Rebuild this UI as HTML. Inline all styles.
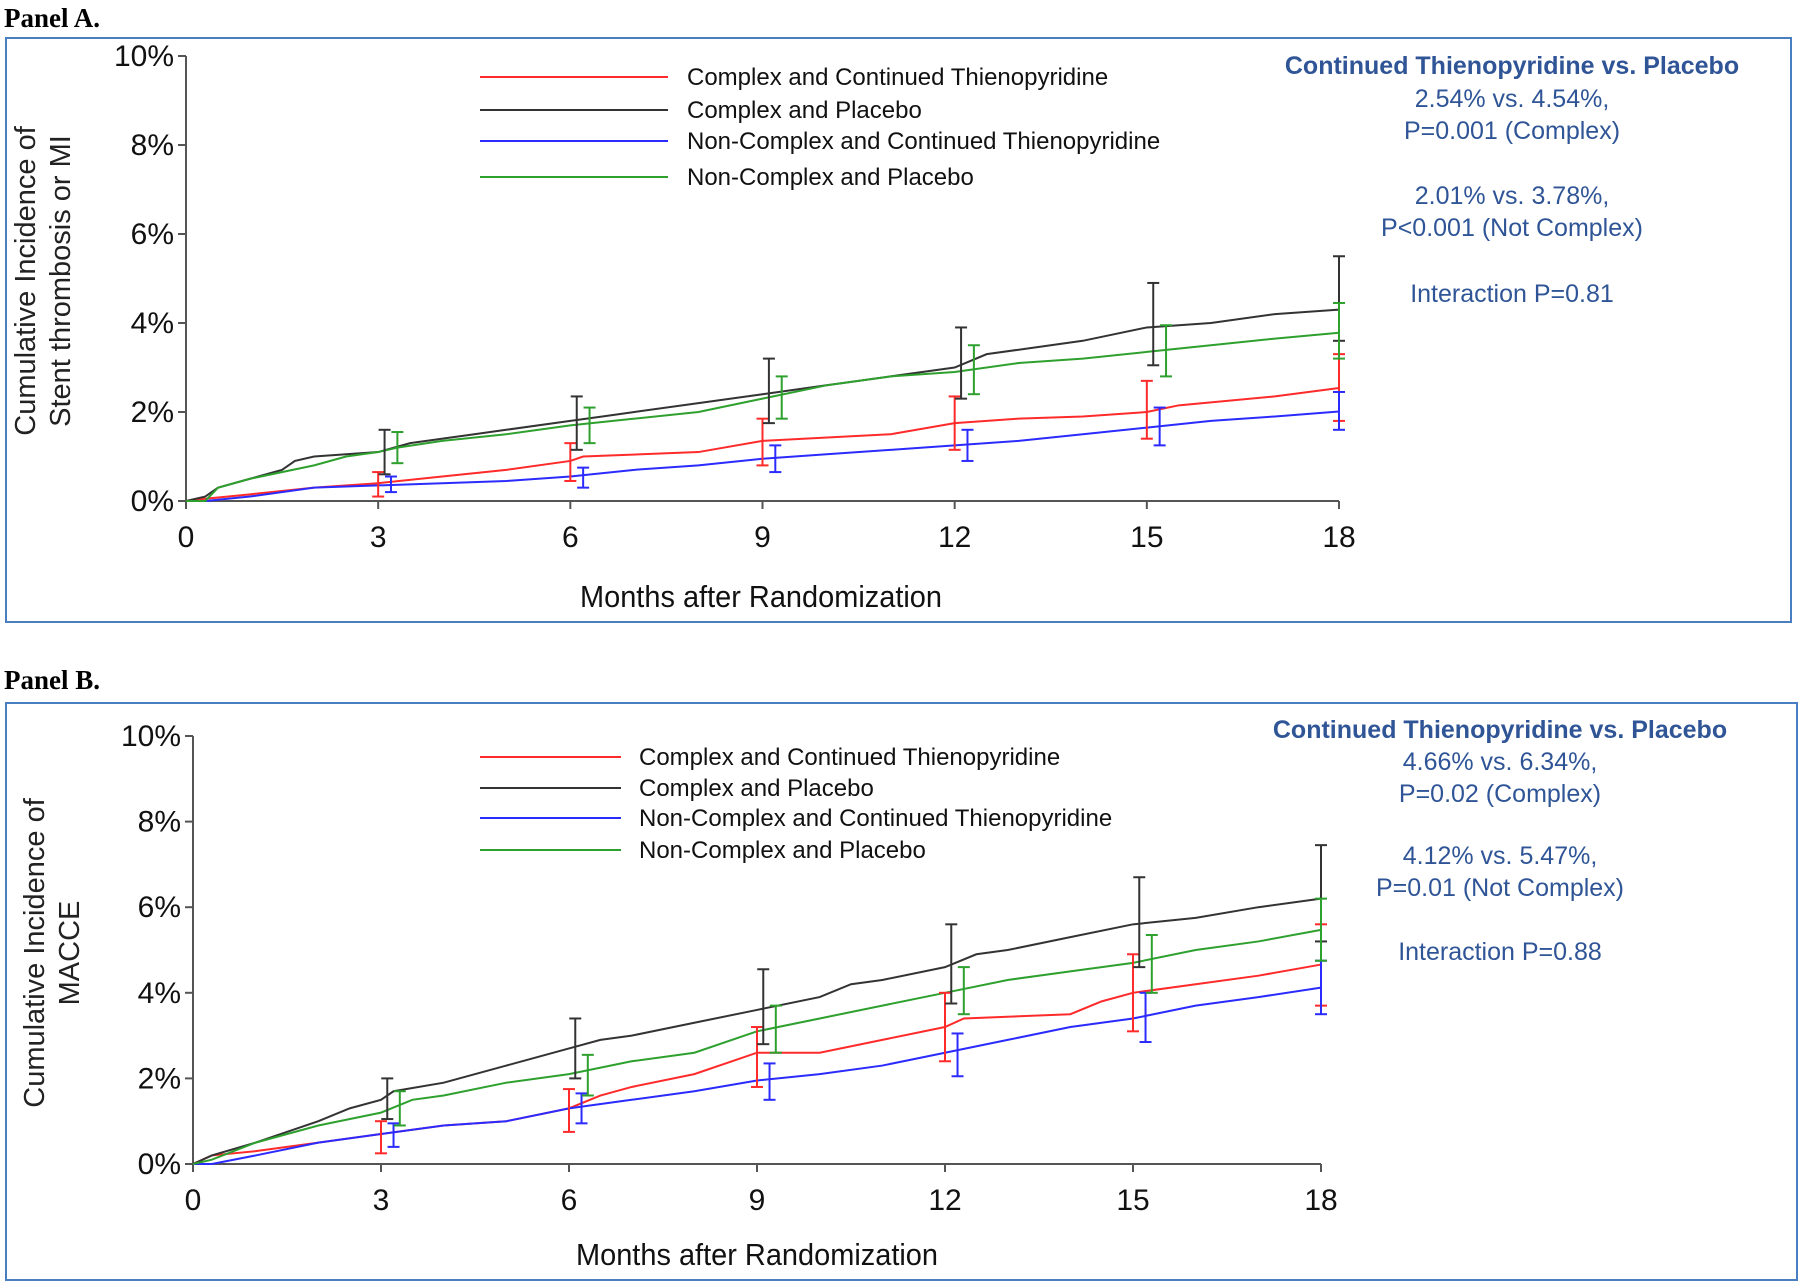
<!DOCTYPE html>
<html><head><meta charset="utf-8">
<style>
body{margin:0;background:#fff;}
svg{display:block;}
text{font-family:"Liberation Sans",sans-serif;}
</style></head>
<body>
<svg id="chart" width="1800" height="1287" viewBox="0 0 1800 1287" xmlns="http://www.w3.org/2000/svg">
  <text x="4" y="27" font-weight="bold" font-size="27" fill="#000" style="font-family:'Liberation Serif',serif">Panel A.</text>
  <rect x="6" y="38" width="1785" height="584" fill="none" stroke="#4A7EC2" stroke-width="2"/>
  <text x="4" y="689" font-weight="bold" font-size="27" fill="#000" style="font-family:'Liberation Serif',serif">Panel B.</text>
  <rect x="6" y="703" width="1791" height="577" fill="none" stroke="#4A7EC2" stroke-width="2"/>
  <g id="pa"></g>
  <g id="pb"></g>
</svg>
<script>
const xTicks=[0,3,6,9,12,15,18];
const yTicks=[0,2,4,6,8,10];
const seriesNames=["Complex and Continued Thienopyridine","Complex and Placebo","Non-Complex and Continued Thienopyridine","Non-Complex and Placebo"];
// Panel A data (months, %)
const aRedT=[0,0.3,1,2,3,4,5,6,6.2,8,9,11,12,13,14,15,15.5,17,18];
const aRedV=[0,0.05,0.15,0.3,0.4,0.55,0.7,0.9,1.0,1.1,1.35,1.5,1.75,1.85,1.9,2.0,2.15,2.35,2.54];
const aBlkT=[0,0.3,0.5,1,1.5,1.7,2,3,3.5,4.5,5,6,6.5,7,8,9,10,11,12,12.5,13,14,15,16,17,18];
const aBlkV=[0,0.1,0.3,0.5,0.7,0.9,1.0,1.1,1.3,1.5,1.6,1.8,1.9,2.0,2.2,2.4,2.6,2.8,3.0,3.3,3.4,3.6,3.9,4.0,4.2,4.3];
const aBluT=[0,0.3,1,2,3,4,5,6,7,8,9,10,11,12,13,14,15,16,17,18];
const aBluV=[0,0,0.1,0.3,0.35,0.4,0.45,0.55,0.7,0.8,0.95,1.05,1.15,1.25,1.35,1.5,1.65,1.8,1.9,2.01];
const aGrnT=[0,0.3,0.5,1,2,2.5,3,3.3,4,5,6,7,8,9,10,11,12,13,14,15,16,17,18];
const aGrnV=[0,0,0.3,0.5,0.8,1.0,1.1,1.2,1.35,1.5,1.7,1.85,2.0,2.3,2.6,2.8,2.9,3.1,3.2,3.35,3.5,3.65,3.78];
const aRedEbT=[3.0,6.0,9.0,12.0,15.0,18];const aRedEbLo=[0.1,0.45,0.8,1.15,1.4,1.8];const aRedEbHi=[0.65,1.3,1.85,2.35,2.7,3.3];
const aBlkEbT=[3.1,6.1,9.1,12.1,15.1,18];const aBlkEbLo=[0.6,1.15,1.75,2.3,3.05,3.6];const aBlkEbHi=[1.6,2.35,3.2,3.9,4.9,5.5];
const aBluEbT=[3.2,6.2,9.2,12.2,15.2,18];const aBluEbLo=[0.2,0.3,0.65,0.9,1.25,1.6];const aBluEbHi=[0.55,0.75,1.25,1.6,2.1,2.45];
const aGrnEbT=[3.3,6.3,9.3,12.3,15.3,18];const aGrnEbLo=[0.85,1.3,1.85,2.4,2.8,3.2];const aGrnEbHi=[1.55,2.1,2.8,3.5,3.95,4.45];
// Panel B data
const bRedT=[0,0.3,1,2,3,4,5,6,6.5,7,8,9,10,11,12,12.3,14,14.5,15,16,17,18];
const bRedV=[0,0.2,0.3,0.5,0.7,0.9,1.0,1.3,1.6,1.8,2.1,2.6,2.6,2.9,3.2,3.4,3.5,3.8,4.0,4.2,4.4,4.66];
const bBlkT=[0,0.3,1,2,2.5,3,3.2,4,5,6,6.5,7,8,9,10,10.5,11,12,12.5,13,14,15,16,17,18];
const bBlkV=[0,0.2,0.5,1.0,1.3,1.5,1.7,1.9,2.3,2.7,2.9,3.0,3.3,3.6,3.9,4.2,4.3,4.6,4.9,5.0,5.3,5.6,5.75,6.0,6.2];
const bBluT=[0,0.3,1,2,3,4,5,6,7,8,9,10,11,12,13,14,15,16,17,18];
const bBluV=[0,0,0.2,0.5,0.7,0.9,1.0,1.3,1.5,1.7,1.95,2.1,2.3,2.6,2.9,3.2,3.4,3.7,3.9,4.12];
const bGrnT=[0,0.3,1,2,3,3.5,4,5,6,7,8,9,10,11,12,13,14,15,16,17,18];
const bGrnV=[0,0.1,0.5,0.9,1.2,1.5,1.6,1.9,2.1,2.4,2.6,3.1,3.4,3.7,4.0,4.3,4.5,4.7,5.0,5.2,5.47];
const bRedEbT=[3.0,6.0,9.0,12.0,15.0,18];const bRedEbLo=[0.25,0.75,1.8,2.4,3.1,3.7];const bRedEbHi=[1.0,1.75,3.2,4.0,4.9,5.6];
const bBlkEbT=[3.1,6.1,9.1,12.1,15.1,18];const bBlkEbLo=[1.05,2.0,2.8,3.75,4.6,5.2];const bBlkEbHi=[2.0,3.4,4.55,5.6,6.7,7.45];
const bBluEbT=[3.2,6.2,9.2,12.2,15.2,18];const bBluEbLo=[0.4,0.95,1.5,2.05,2.85,3.5];const bBluEbHi=[0.95,1.65,2.35,3.05,4.0,4.75];
const bGrnEbT=[3.3,6.3,9.3,12.3,15.3,18];const bGrnEbLo=[0.9,1.6,2.6,3.5,4.0,4.75];const bGrnEbHi=[1.7,2.55,3.7,4.6,5.35,6.2];

const NS="http://www.w3.org/2000/svg";
const COLORS=["#FF2A2A","#333333","#2B2BFF","#2EA02E"];
function mk(tag,attrs,parent){const e=document.createElementNS(NS,tag);for(const k in attrs)e.setAttribute(k,attrs[k]);parent.appendChild(e);return e;}

function drawPanel(g,cfg,series,ebs){
  const X=t=>cfg.x0+(cfg.x1-cfg.x0)*t/18;
  const Y=v=>cfg.y0+(cfg.y1-cfg.y0)*v/10;
  const ya=mk('line',{x1:cfg.x0,y1:cfg.y1,x2:cfg.x0,y2:cfg.y0,stroke:'#555','stroke-width':2},g);
  
  
  const xa=mk('line',{x1:cfg.x0-8,y1:cfg.y0,x2:cfg.x1,y2:cfg.y0,stroke:'#555','stroke-width':2},g);
  
  
  yTicks.forEach(v=>{
    mk('line',{x1:cfg.x0-8,y1:Y(v),x2:cfg.x0,y2:Y(v),stroke:'#555','stroke-width':2},g);
    const t=mk('text',{x:cfg.x0-12,y:Y(v)+10,'text-anchor':'end','font-size':30,fill:'#111'},g);
    t.textContent=v+'%';
    
    
  });
  xTicks.forEach(v=>{
    mk('line',{x1:X(v),y1:cfg.y0,x2:X(v),y2:cfg.y0+8,stroke:'#555','stroke-width':2},g);
    const t=mk('text',{x:X(v),y:cfg.xl,'text-anchor':'middle','font-size':30,fill:'#111'},g);
    t.textContent=v;
    
    
  });
  const xt=mk('text',{x:cfg.xtX,y:cfg.xtY,'text-anchor':'middle','font-size':31,fill:'#111',textLength:362,lengthAdjust:'spacingAndGlyphs'},g);
  xt.textContent='Months after Randomization';
  
  
  cfg.ytLines.forEach((s,i)=>{
    const t=mk('text',{x:0,y:0,'text-anchor':'middle','font-size':29,fill:'#222',transform:`translate(${cfg.ytX[i]},${cfg.ytY}) rotate(-90)`},g);
    t.textContent=s;
    
    
  });
  series.forEach((s,i)=>{
    let d='M'+X(s.t[0])+','+Y(s.v[0]);
    for(let k=1;k<s.t.length;k++){d+=' L'+X(s.t[k])+','+Y(s.v[k]);}
    const p=mk('path',{d:d,fill:'none',stroke:COLORS[i],'stroke-width':2},g);
    
    
  });
  ebs.forEach((e,i)=>{
    for(let k=0;k<e.t.length;k++){
      const x=X(e.t[k]),lo=Y(e.lo[k]),hi=Y(e.hi[k]);
      const eg=mk('g',{stroke:COLORS[i],'stroke-width':2},g);
      
      
      mk('line',{x1:x,y1:lo,x2:x,y2:hi},eg);
      mk('line',{x1:x-6,y1:lo,x2:x+6,y2:lo},eg);
      mk('line',{x1:x-6,y1:hi,x2:x+6,y2:hi},eg);
    }
  });
  seriesNames.forEach((n,i)=>{
    const lg=mk('g',{},g);
    
    
    mk('line',{x1:cfg.lgX0,y1:cfg.lgY[i],x2:cfg.lgX1,y2:cfg.lgY[i],stroke:COLORS[i],'stroke-width':2},lg);
    const t=mk('text',{x:cfg.lgTX,y:cfg.lgY[i]+8,'font-size':24,fill:'#111'},lg);
    t.textContent=n;
  });
  cfg.stats.forEach((s,i)=>{
    const t=mk('text',{x:cfg.stX,y:cfg.stY[i],'text-anchor':'middle','font-size':25,fill:'#2F5597','font-weight':i===0?'bold':'normal'},g);
    t.textContent=s;
    
    
  });
}

drawPanel(document.getElementById('pa'),{
  x0:186,x1:1339,y0:501,y1:56,xl:547,xtX:761,xtY:607,
  ytLines:['Cumulative Incidence of','Stent thrombosis or MI'],ytX:[35,70],ytY:281,
  lgX0:480,lgX1:668,lgY:[77,110,141,177],lgTX:687,
  stX:1512,
  stats:['Continued Thienopyridine vs. Placebo','2.54% vs. 4.54%,','P=0.001 (Complex)','2.01% vs. 3.78%,','P<0.001 (Not Complex)','Interaction P=0.81'],
  stY:[74,107,139,204,236,302]
},[{t:aRedT,v:aRedV},{t:aBlkT,v:aBlkV},{t:aBluT,v:aBluV},{t:aGrnT,v:aGrnV}],
[{t:aRedEbT,lo:aRedEbLo,hi:aRedEbHi},{t:aBlkEbT,lo:aBlkEbLo,hi:aBlkEbHi},{t:aBluEbT,lo:aBluEbLo,hi:aBluEbHi},{t:aGrnEbT,lo:aGrnEbLo,hi:aGrnEbHi}]);

drawPanel(document.getElementById('pb'),{
  x0:193,x1:1321,y0:1164,y1:736,xl:1210,xtX:757,xtY:1265,
  ytLines:['Cumulative Incidence of','MACCE'],ytX:[44,79],ytY:953,
  lgX0:480,lgX1:621,lgY:[757,788,818,850],lgTX:639,
  stX:1500,
  stats:['Continued Thienopyridine vs. Placebo','4.66% vs. 6.34%,','P=0.02 (Complex)','4.12% vs. 5.47%,','P=0.01 (Not Complex)','Interaction P=0.88'],
  stY:[738,770,802,864,896,960]
},[{t:bRedT,v:bRedV},{t:bBlkT,v:bBlkV},{t:bBluT,v:bBluV},{t:bGrnT,v:bGrnV}],
[{t:bRedEbT,lo:bRedEbLo,hi:bRedEbHi},{t:bBlkEbT,lo:bBlkEbLo,hi:bBlkEbHi},{t:bBluEbT,lo:bBluEbLo,hi:bBluEbHi},{t:bGrnEbT,lo:bGrnEbLo,hi:bGrnEbHi}]);
</script>
</body></html>
